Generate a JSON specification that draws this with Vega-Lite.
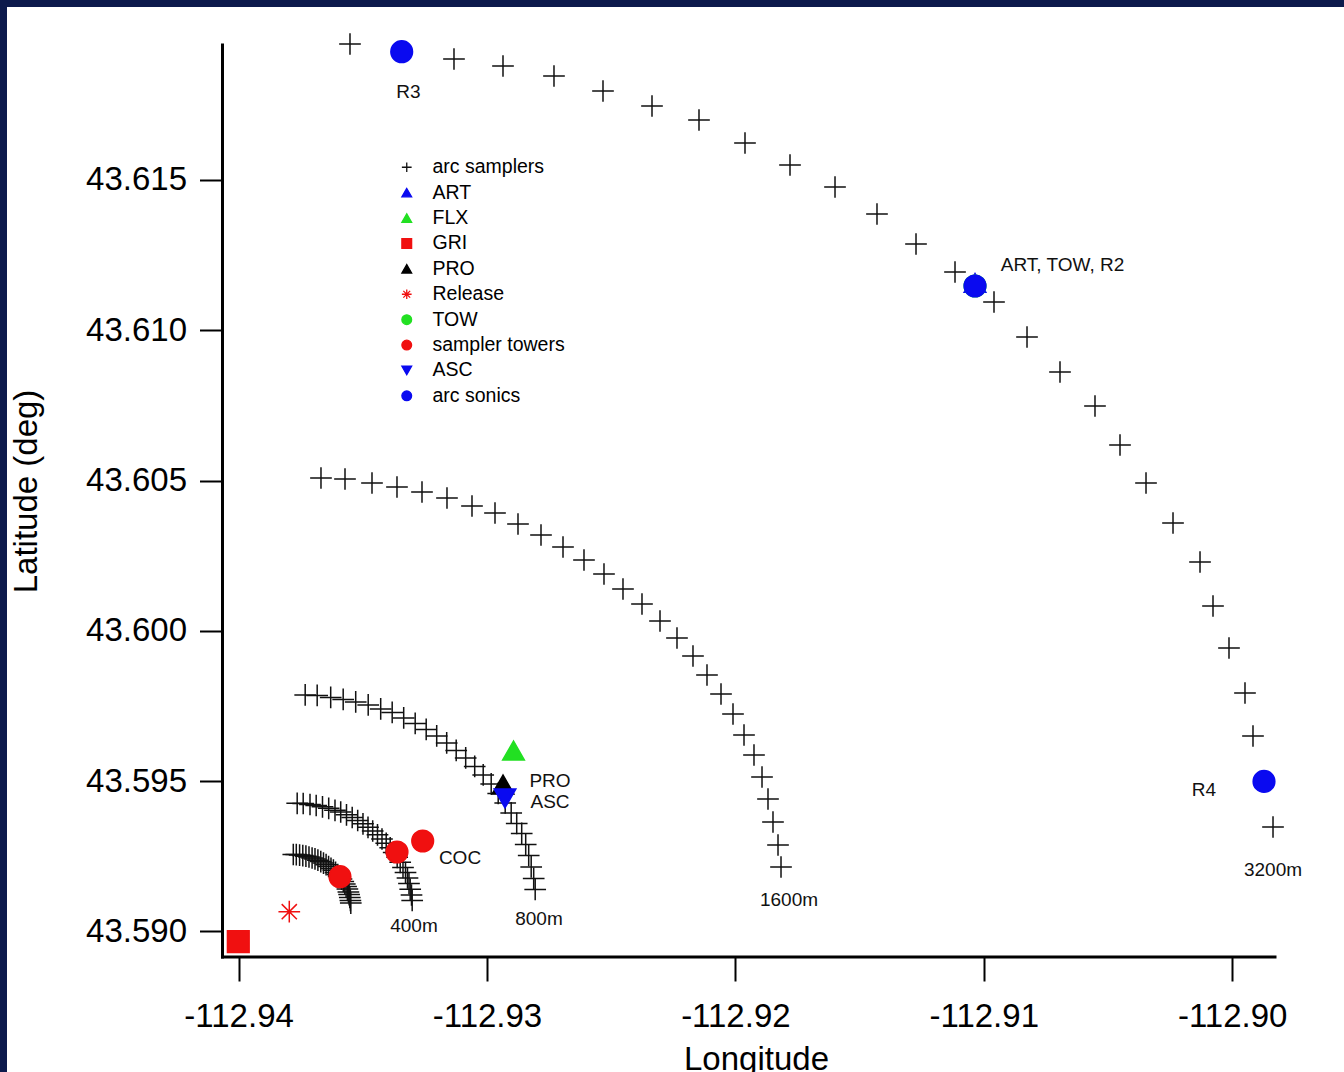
{
  "$schema": "https://vega.github.io/schema/vega-lite/v6.json",
  "width": 1337,
  "height": 1065,
  "autosize": {"type": "none"},
  "padding": {"left": 7, "top": 7, "right": 0, "bottom": 0},
  "background": "#0c1a4c",
  "config": {
    "view": {"fill": "white", "stroke": null},
    "font": "Liberation Sans",
    "locale": {"number": {"decimal": ".", "thousands": ",", "grouping": [3], "currency": ["$", ""], "minus": "-"}}
  },
  "datasets": {
    "markers": [
      {"type": "arc samplers", "lon": -112.935515, "lat": 43.619524},
      {"type": "arc samplers", "lon": -112.933421, "lat": 43.619258},
      {"type": "arc samplers", "lon": -112.931328, "lat": 43.619025},
      {"type": "arc samplers", "lon": -112.929355, "lat": 43.618793},
      {"type": "arc samplers", "lon": -112.927302, "lat": 43.618460},
      {"type": "arc samplers", "lon": -112.925329, "lat": 43.617961},
      {"type": "arc samplers", "lon": -112.923356, "lat": 43.617462},
      {"type": "arc samplers", "lon": -112.921464, "lat": 43.616996},
      {"type": "arc samplers", "lon": -112.919612, "lat": 43.616231},
      {"type": "arc samplers", "lon": -112.917800, "lat": 43.615499},
      {"type": "arc samplers", "lon": -112.915988, "lat": 43.614767},
      {"type": "arc samplers", "lon": -112.914298, "lat": 43.613869},
      {"type": "arc samplers", "lon": -112.912727, "lat": 43.612871},
      {"type": "arc samplers", "lon": -112.911157, "lat": 43.611939},
      {"type": "arc samplers", "lon": -112.909587, "lat": 43.610942},
      {"type": "arc samplers", "lon": -112.908258, "lat": 43.609777},
      {"type": "arc samplers", "lon": -112.906930, "lat": 43.608613},
      {"type": "arc samplers", "lon": -112.905521, "lat": 43.607482},
      {"type": "arc samplers", "lon": -112.904514, "lat": 43.606184},
      {"type": "arc samplers", "lon": -112.903467, "lat": 43.604920},
      {"type": "arc samplers", "lon": -112.902380, "lat": 43.603590},
      {"type": "arc samplers", "lon": -112.901293, "lat": 43.602292},
      {"type": "arc samplers", "lon": -112.900770, "lat": 43.600828},
      {"type": "arc samplers", "lon": -112.900126, "lat": 43.599431},
      {"type": "arc samplers", "lon": -112.899482, "lat": 43.597934},
      {"type": "arc samplers", "lon": -112.899160, "lat": 43.596504},
      {"type": "arc samplers", "lon": -112.898717, "lat": 43.595007},
      {"type": "arc samplers", "lon": -112.898354, "lat": 43.593476},
      {"type": "arc samplers", "lon": -112.936683, "lat": 43.605087},
      {"type": "arc samplers", "lon": -112.935716, "lat": 43.605053},
      {"type": "arc samplers", "lon": -112.934629, "lat": 43.604920},
      {"type": "arc samplers", "lon": -112.933623, "lat": 43.604787},
      {"type": "arc samplers", "lon": -112.932616, "lat": 43.604621},
      {"type": "arc samplers", "lon": -112.931610, "lat": 43.604421},
      {"type": "arc samplers", "lon": -112.930603, "lat": 43.604155},
      {"type": "arc samplers", "lon": -112.929677, "lat": 43.603922},
      {"type": "arc samplers", "lon": -112.928751, "lat": 43.603556},
      {"type": "arc samplers", "lon": -112.927825, "lat": 43.603190},
      {"type": "arc samplers", "lon": -112.926939, "lat": 43.602791},
      {"type": "arc samplers", "lon": -112.926094, "lat": 43.602359},
      {"type": "arc samplers", "lon": -112.925289, "lat": 43.601893},
      {"type": "arc samplers", "lon": -112.924524, "lat": 43.601394},
      {"type": "arc samplers", "lon": -112.923759, "lat": 43.600895},
      {"type": "arc samplers", "lon": -112.923034, "lat": 43.600329},
      {"type": "arc samplers", "lon": -112.922350, "lat": 43.599764},
      {"type": "arc samplers", "lon": -112.921706, "lat": 43.599165},
      {"type": "arc samplers", "lon": -112.921142, "lat": 43.598533},
      {"type": "arc samplers", "lon": -112.920578, "lat": 43.597901},
      {"type": "arc samplers", "lon": -112.920095, "lat": 43.597236},
      {"type": "arc samplers", "lon": -112.919652, "lat": 43.596537},
      {"type": "arc samplers", "lon": -112.919250, "lat": 43.595872},
      {"type": "arc samplers", "lon": -112.918927, "lat": 43.595140},
      {"type": "arc samplers", "lon": -112.918686, "lat": 43.594408},
      {"type": "arc samplers", "lon": -112.918485, "lat": 43.593643},
      {"type": "arc samplers", "lon": -112.918283, "lat": 43.592878},
      {"type": "arc samplers", "lon": -112.918162, "lat": 43.592146},
      {"type": "arc samplers", "lon": -112.937319, "lat": 43.597871},
      {"type": "arc samplers", "lon": -112.936836, "lat": 43.597854},
      {"type": "arc samplers", "lon": -112.936292, "lat": 43.597788},
      {"type": "arc samplers", "lon": -112.935789, "lat": 43.597721},
      {"type": "arc samplers", "lon": -112.935285, "lat": 43.597638},
      {"type": "arc samplers", "lon": -112.934782, "lat": 43.597538},
      {"type": "arc samplers", "lon": -112.934279, "lat": 43.597405},
      {"type": "arc samplers", "lon": -112.933816, "lat": 43.597289},
      {"type": "arc samplers", "lon": -112.933353, "lat": 43.597106},
      {"type": "arc samplers", "lon": -112.932890, "lat": 43.596923},
      {"type": "arc samplers", "lon": -112.932447, "lat": 43.596723},
      {"type": "arc samplers", "lon": -112.932024, "lat": 43.596507},
      {"type": "arc samplers", "lon": -112.931622, "lat": 43.596274},
      {"type": "arc samplers", "lon": -112.931239, "lat": 43.596025},
      {"type": "arc samplers", "lon": -112.930857, "lat": 43.595775},
      {"type": "arc samplers", "lon": -112.930494, "lat": 43.595492},
      {"type": "arc samplers", "lon": -112.930152, "lat": 43.595210},
      {"type": "arc samplers", "lon": -112.929830, "lat": 43.594910},
      {"type": "arc samplers", "lon": -112.929548, "lat": 43.594594},
      {"type": "arc samplers", "lon": -112.929266, "lat": 43.594278},
      {"type": "arc samplers", "lon": -112.929025, "lat": 43.593945},
      {"type": "arc samplers", "lon": -112.928803, "lat": 43.593596},
      {"type": "arc samplers", "lon": -112.928602, "lat": 43.593263},
      {"type": "arc samplers", "lon": -112.928441, "lat": 43.592898},
      {"type": "arc samplers", "lon": -112.928320, "lat": 43.592532},
      {"type": "arc samplers", "lon": -112.928220, "lat": 43.592149},
      {"type": "arc samplers", "lon": -112.928119, "lat": 43.591766},
      {"type": "arc samplers", "lon": -112.928059, "lat": 43.591401},
      {"type": "arc samplers", "lon": -112.937641, "lat": 43.594265},
      {"type": "arc samplers", "lon": -112.937399, "lat": 43.594258},
      {"type": "arc samplers", "lon": -112.937125, "lat": 43.594225},
      {"type": "arc samplers", "lon": -112.936876, "lat": 43.594192},
      {"type": "arc samplers", "lon": -112.936622, "lat": 43.594148},
      {"type": "arc samplers", "lon": -112.936372, "lat": 43.594098},
      {"type": "arc samplers", "lon": -112.936119, "lat": 43.594032},
      {"type": "arc samplers", "lon": -112.935889, "lat": 43.593975},
      {"type": "arc samplers", "lon": -112.935656, "lat": 43.593882},
      {"type": "arc samplers", "lon": -112.935426, "lat": 43.593792},
      {"type": "arc samplers", "lon": -112.935205, "lat": 43.593693},
      {"type": "arc samplers", "lon": -112.934992, "lat": 43.593583},
      {"type": "arc samplers", "lon": -112.934790, "lat": 43.593466},
      {"type": "arc samplers", "lon": -112.934601, "lat": 43.593343},
      {"type": "arc samplers", "lon": -112.934408, "lat": 43.593217},
      {"type": "arc samplers", "lon": -112.934227, "lat": 43.593077},
      {"type": "arc samplers", "lon": -112.934057, "lat": 43.592934},
      {"type": "arc samplers", "lon": -112.933896, "lat": 43.592784},
      {"type": "arc samplers", "lon": -112.933756, "lat": 43.592628},
      {"type": "arc samplers", "lon": -112.933615, "lat": 43.592468},
      {"type": "arc samplers", "lon": -112.933494, "lat": 43.592302},
      {"type": "arc samplers", "lon": -112.933381, "lat": 43.592129},
      {"type": "arc samplers", "lon": -112.933280, "lat": 43.591963},
      {"type": "arc samplers", "lon": -112.933200, "lat": 43.591780},
      {"type": "arc samplers", "lon": -112.933140, "lat": 43.591597},
      {"type": "arc samplers", "lon": -112.933091, "lat": 43.591404},
      {"type": "arc samplers", "lon": -112.933039, "lat": 43.591214},
      {"type": "arc samplers", "lon": -112.933011, "lat": 43.591031},
      {"type": "arc samplers", "lon": -112.937798, "lat": 43.592562},
      {"type": "arc samplers", "lon": -112.937677, "lat": 43.592558},
      {"type": "arc samplers", "lon": -112.937544, "lat": 43.592542},
      {"type": "arc samplers", "lon": -112.937415, "lat": 43.592525},
      {"type": "arc samplers", "lon": -112.937290, "lat": 43.592505},
      {"type": "arc samplers", "lon": -112.937166, "lat": 43.592478},
      {"type": "arc samplers", "lon": -112.937041, "lat": 43.592445},
      {"type": "arc samplers", "lon": -112.936924, "lat": 43.592415},
      {"type": "arc samplers", "lon": -112.936807, "lat": 43.592372},
      {"type": "arc samplers", "lon": -112.936691, "lat": 43.592325},
      {"type": "arc samplers", "lon": -112.936582, "lat": 43.592275},
      {"type": "arc samplers", "lon": -112.936477, "lat": 43.592222},
      {"type": "arc samplers", "lon": -112.936377, "lat": 43.592162},
      {"type": "arc samplers", "lon": -112.936280, "lat": 43.592099},
      {"type": "arc samplers", "lon": -112.936183, "lat": 43.592039},
      {"type": "arc samplers", "lon": -112.936095, "lat": 43.591966},
      {"type": "arc samplers", "lon": -112.936006, "lat": 43.591896},
      {"type": "arc samplers", "lon": -112.935926, "lat": 43.591823},
      {"type": "arc samplers", "lon": -112.935857, "lat": 43.591743},
      {"type": "arc samplers", "lon": -112.935785, "lat": 43.591663},
      {"type": "arc samplers", "lon": -112.935724, "lat": 43.591580},
      {"type": "arc samplers", "lon": -112.935672, "lat": 43.591494},
      {"type": "arc samplers", "lon": -112.935620, "lat": 43.591411},
      {"type": "arc samplers", "lon": -112.935579, "lat": 43.591317},
      {"type": "arc samplers", "lon": -112.935551, "lat": 43.591228},
      {"type": "arc samplers", "lon": -112.935523, "lat": 43.591131},
      {"type": "arc samplers", "lon": -112.935499, "lat": 43.591035},
      {"type": "arc samplers", "lon": -112.935483, "lat": 43.590945},
      {"type": "ART", "lon": -112.910352, "lat": 43.611574},
      {"type": "FLX", "lon": -112.928932, "lat": 43.596021},
      {"type": "GRI", "lon": -112.940012, "lat": 43.589661},
      {"type": "PRO", "lon": -112.929355, "lat": 43.594890},
      {"type": "Release", "lon": -112.937959, "lat": 43.590659},
      {"type": "TOW", "lon": -112.910352, "lat": 43.611474},
      {"type": "sampler towers", "lon": -112.935918, "lat": 43.591823},
      {"type": "sampler towers", "lon": -112.933623, "lat": 43.592645},
      {"type": "sampler towers", "lon": -112.932588, "lat": 43.593011},
      {"type": "ASC", "lon": -112.929275, "lat": 43.594425},
      {"type": "arc sonics", "lon": -112.933433, "lat": 43.619268},
      {"type": "arc sonics", "lon": -112.910352, "lat": 43.611474},
      {"type": "arc sonics", "lon": -112.898717, "lat": 43.594993}
    ],
    "labels": [
      {"text": "R3", "lon": -112.933160, "lat": 43.617928},
      {"text": "ART, TOW, R2", "lon": -112.906829, "lat": 43.612172},
      {"text": "R4", "lon": -112.901132, "lat": 43.594707},
      {"text": "3200m", "lon": -112.898354, "lat": 43.592046},
      {"text": "1600m", "lon": -112.917840, "lat": 43.591048},
      {"text": "800m", "lon": -112.927906, "lat": 43.590416},
      {"text": "400m", "lon": -112.932938, "lat": 43.590183},
      {"text": "COC", "lon": -112.931086, "lat": 43.592445},
      {"text": "PRO", "lon": -112.927463, "lat": 43.595007},
      {"text": "ASC", "lon": -112.927463, "lat": 43.594308}
    ]
  },
  "layer": [
    {
      "data": {"values": [{}]},
      "mark": {"type": "rule", "color": "black", "strokeWidth": 3, "strokeCap": "square"},
      "encoding": {
        "x": {"datum": -112.940648, "type": "quantitative", "scale": {"domain": [-112.949324, -112.895496], "nice": false, "zero": false}},
        "x2": {"datum": -112.898274},
        "y": {"datum": 43.589152, "type": "quantitative", "scale": {"domain": [43.585326, 43.620755], "nice": false, "zero": false}}
      }
    },
    {
      "data": {"values": [{}]},
      "mark": {"type": "rule", "color": "black", "strokeWidth": 3, "strokeCap": "square"},
      "encoding": {
        "x": {"datum": -112.940648, "type": "quantitative", "scale": {"domain": [-112.949324, -112.895496], "nice": false, "zero": false}},
        "y": {"datum": 43.589152, "type": "quantitative", "scale": {"domain": [43.585326, 43.620755], "nice": false, "zero": false}},
        "y2": {"datum": 43.619491}
      }
    },
    {
      "data": {"name": "markers"},
      "mark": {"type": "point", "filled": true, "size": 470, "strokeWidth": 1.5, "opacity": 1},
      "encoding": {
        "x": {
          "field": "lon", "type": "quantitative",
          "scale": {"domain": [-112.949324, -112.895496], "nice": false, "zero": false},
          "axis": {
            "values": [-112.94, -112.93, -112.92, -112.91, -112.9],
            "format": ".2f", "offset": -115, "domain": false, "grid": false,
            "tickSize": 24, "tickWidth": 2, "tickColor": "black",
            "labelFontSize": 33, "labelColor": "black", "labelFont": "Liberation Sans", "labelPadding": 19,
            "labelFlush": false, "labelOverlap": false,
            "title": "Longitude", "titleFontSize": 33, "titleFont": "Liberation Sans", "titleFontWeight": "normal", "titleColor": "black",
            "titleX": 749, "titleY": 112, "titleAlign": "center", "titleBaseline": "alphabetic"
          }
        },
        "y": {
          "field": "lat", "type": "quantitative",
          "scale": {"domain": [43.585326, 43.620755], "nice": false, "zero": false},
          "axis": {
            "values": [43.59, 43.595, 43.6, 43.605, 43.61, 43.615],
            "format": ".3f", "offset": -215.5, "domain": false, "grid": false,
            "tickSize": 23, "tickWidth": 2, "tickColor": "black",
            "labelFontSize": 33, "labelColor": "black", "labelFont": "Liberation Sans", "labelPadding": 13,
            "labelFlush": false, "labelOverlap": false,
            "title": "Latitude (deg)", "titleFontSize": 33, "titleFont": "Liberation Sans", "titleFontWeight": "normal", "titleColor": "black",
            "titleX": -186, "titleY": 484, "titleAlign": "center", "titleBaseline": "alphabetic", "titleAngle": -90
          }
        },
        "shape": {
          "field": "type", "type": "nominal",
          "scale": {
            "domain": ["arc samplers", "ART", "FLX", "GRI", "PRO", "Release", "TOW", "sampler towers", "ASC", "arc sonics"],
            "range": ["M-1,0L1,0M0,-1L0,1", "triangle-up", "triangle-up", "square", "triangle-up", "M-1,0L1,0M0,-1L0,1M-0.7,-0.7L0.7,0.7M-0.7,0.7L0.7,-0.7", "circle", "circle", "triangle-down", "circle"]
          },
          "legend": {"orient": "none", "legendX": 390, "legendY": 150.5, "title": null, "padding": 0, "labelFontSize": 19.5, "labelFont": "Liberation Sans", "labelColor": "black", "symbolSize": 95, "symbolStrokeWidth": 1.3, "rowPadding": 4.4, "labelOffset": 16, "symbolOffset": 0}
        },
        "fill": {
          "field": "type", "type": "nominal",
          "scale": {
            "domain": ["arc samplers", "ART", "FLX", "GRI", "PRO", "Release", "TOW", "sampler towers", "ASC", "arc sonics"],
            "range": ["#111111", "#0a0af0", "#22e022", "#f01010", "#000000", "#f01010", "#22e022", "#f01010", "#0a0af0", "#0a0af0"]
          },
          "legend": {"orient": "none", "legendX": 390, "legendY": 150.5, "title": null, "padding": 0, "labelFontSize": 19.5, "labelFont": "Liberation Sans", "labelColor": "black", "symbolSize": 95, "symbolStrokeWidth": 1.3, "rowPadding": 4.4, "labelOffset": 16, "symbolOffset": 0}
        },
        "stroke": {
          "field": "type", "type": "nominal",
          "scale": {
            "domain": ["arc samplers", "ART", "FLX", "GRI", "PRO", "Release", "TOW", "sampler towers", "ASC", "arc sonics"],
            "range": ["#111111", "#0a0af0", "#22e022", "#f01010", "#000000", "#f01010", "#22e022", "#f01010", "#0a0af0", "#0a0af0"]
          },
          "legend": {"orient": "none", "legendX": 390, "legendY": 150.5, "title": null, "padding": 0, "labelFontSize": 19.5, "labelFont": "Liberation Sans", "labelColor": "black", "symbolSize": 95, "symbolStrokeWidth": 1.3, "rowPadding": 4.4, "labelOffset": 16, "symbolOffset": 0}
        }
      }
    },
    {
      "data": {"name": "labels"},
      "mark": {"type": "text", "align": "center", "baseline": "middle", "fontSize": 19, "font": "Liberation Sans", "color": "#111111"},
      "encoding": {
        "x": {"field": "lon", "type": "quantitative", "scale": {"domain": [-112.949324, -112.895496], "nice": false, "zero": false}},
        "y": {"field": "lat", "type": "quantitative", "scale": {"domain": [43.585326, 43.620755], "nice": false, "zero": false}},
        "text": {"field": "text"}
      }
    }
  ]
}
